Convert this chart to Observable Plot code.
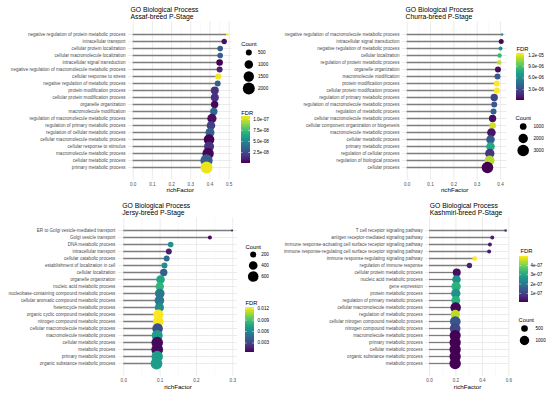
<!DOCTYPE html>
<html><head><meta charset="utf-8">
<script src="https://cdn.jsdelivr.net/npm/d3@7"></script>
<script src="https://cdn.jsdelivr.net/npm/@observablehq/plot@0.6"></script>
<style>
html,body{margin:0;padding:0;background:#fff;}
#chart{position:relative;width:550px;height:393px;overflow:hidden;background:#fff;}
#chart svg{position:absolute;left:0;top:0;}
</style></head><body><div id="chart"></div>
<script>
// ---------------- DATA ----------------
const assafTerms = ["negative regulation of protein metabolic process","intracellular transport","cellular protein localization","cellular macromolecule localization","intracellular signal transduction","negative regulation of macromolecule metabolic process","cellular response to stress","negative regulation of metabolic process","protein modification process","cellular protein modification process","organelle organization","macromolecule modification","regulation of macromolecule metabolic process","regulation of primary metabolic process","regulation of cellular metabolic process","cellular macromolecule metabolic process","cellular response to stimulus","macromolecule metabolic process","cellular metabolic process","primary metabolic process"];
const assafRich = [0.490,0.474,0.453,0.453,0.450,0.450,0.443,0.440,0.425,0.425,0.424,0.420,0.410,0.405,0.400,0.395,0.395,0.390,0.382,0.382];
const assafCount = [95,400,440,440,610,500,500,500,890,890,760,760,1200,1040,1120,1560,1390,1800,2100,2000];
const assafFDR = [1.07e-7,5e-9,3.2e-8,3.3e-8,1e-9,1.1e-8,1.05e-7,3.3e-8,1.6e-8,1.6e-8,3e-9,3.6e-8,5e-9,2.1e-8,3.2e-8,1e-9,1.6e-8,2e-9,3.2e-8,1.04e-7];
const assafXTicks = [0,0.1,0.2,0.3,0.4,0.5];
const assafFdrTicks = [2.5e-8,5e-8,7.5e-8,1e-7];
const assafFdrLabels = ["2.5e-08","5.0e-08","7.5e-08","1.0e-07"];
const assafCountBreaks = [500,1000,1500,2000];

const churraTerms = ["negative regulation of macromolecule metabolic process","intracellular signal transduction","negative regulation of metabolic process","cellular localization","regulation of protein metabolic process","organelle organization","macromolecule modification","protein modification process","cellular protein modification process","regulation of primary metabolic process","regulation of macromolecule metabolic process","regulation of metabolic process","cellular macromolecule metabolic process","cellular component organization or biogenesis","macromolecule metabolic process","cellular metabolic process","primary metabolic process","regulation of cellular process","regulation of biological process","cellular process"];
const churraRich = [0.407,0.403,0.400,0.396,0.394,0.389,0.387,0.384,0.384,0.373,0.373,0.370,0.366,0.366,0.361,0.357,0.357,0.354,0.353,0.344];
const churraCount = [130,560,360,470,470,800,800,800,800,1200,800,800,1200,970,1650,1650,1650,1950,2200,3000];
const churraFDR = [6.2e-6,3e-7,6.5e-6,8.5e-6,1.12e-5,5e-7,3.6e-6,1.24e-5,1.24e-5,2.6e-6,3.6e-6,3.8e-6,5e-7,1.15e-5,8e-7,3.6e-6,7.5e-6,2e-6,1.1e-5,1e-7];
const churraXTicks = [0,0.1,0.2,0.3,0.4];
const churraFdrTicks = [3e-6,6e-6,9e-6,1.2e-5];
const churraFdrLabels = ["3.0e-06","6.0e-06","9.0e-06","1.2e-05"];
const churraCountBreaks = [1000,2000,3000];

const jersyTerms = ["ER to Golgi vesicle-mediated transport","Golgi vesicle transport","DNA metabolic process","intracellular transport","cellular catabolic process","establishment of localization in cell","cellular localization","organelle organization","nucleic acid metabolic process","nucleobase-containing compound metabolic process","cellular aromatic compound metabolic process","heterocycle metabolic process","organic cyclic compound metabolic process","nitrogen compound metabolic process","cellular macromolecule metabolic process","macromolecule metabolic process","cellular metabolic process","metabolic process","primary metabolic process","organic substance metabolic process"];
const jersyRich = [0.298,0.237,0.129,0.124,0.118,0.112,0.110,0.101,0.099,0.099,0.098,0.098,0.095,0.095,0.093,0.092,0.092,0.092,0.092,0.090];
const jersyCount = [21,86,170,190,190,190,290,400,380,500,500,450,535,600,600,650,720,740,700,740];
const jersyFDR = [5e-4,8e-4,6.5e-3,1.5e-3,4.5e-3,6.3e-3,4.0e-3,7.5e-3,8.2e-3,5.2e-3,5.3e-3,6.3e-3,1.23e-2,1.22e-2,3.3e-3,7.0e-3,8e-4,8e-4,7.0e-3,7.0e-3];
const jersyXTicks = [0,0.1,0.2,0.3];
const jersyFdrTicks = [0.003,0.006,0.009,0.012];
const jersyFdrLabels = ["0.003","0.006","0.009","0.012"];
const jersyCountBreaks = [200,400,600];

const kashmiriTerms = ["T cell receptor signaling pathway","antigen receptor-mediated signaling pathway","immune response-activating cell surface receptor signaling pathway","immune response-regulating cell surface receptor signaling pathway","immune response-regulating signaling pathway","regulation of immune response","cellular protein metabolic process","nucleic acid metabolic process","gene expression","protein metabolic process","regulation of primary metabolic process","cellular macromolecule metabolic process","regulation of metabolic process","cellular nitrogen compound metabolic process","nitrogen compound metabolic process","macromolecule metabolic process","primary metabolic process","cellular metabolic process","organic substance metabolic process","metabolic process"];
const kashmiriRich = [0.576,0.475,0.457,0.451,0.342,0.302,0.206,0.204,0.201,0.199,0.199,0.198,0.195,0.195,0.194,0.194,0.194,0.194,0.194,0.194];
const kashmiriCount = [77,180,180,180,240,330,725,840,1000,1000,900,1250,1000,1300,1300,1400,1450,1450,1450,1480];
const kashmiriFDR = [7e-8,5e-8,4e-8,4e-8,4.95e-7,5e-8,2e-8,2.5e-7,3.2e-7,2.5e-7,3.2e-7,1e-8,4.45e-7,1.3e-7,1.05e-7,5e-9,4e-9,4e-9,3e-9,3e-9];
const kashmiriXTicks = [0,0.2,0.4,0.6];
const kashmiriFdrTicks = [1e-7,2e-7,3e-7,4e-7];
const kashmiriFdrLabels = ["1e-07","2e-07","3e-07","4e-07"];
const kashmiriCountBreaks = [500,1000];

// ---------------- LAYOUT ----------------
const W = 550, H = 393;
const FONT = '"Liberation Sans", Arial, Helvetica, sans-serif';
const chart = document.getElementById("chart");

function panel(c) {
  const data = c.terms.map((t, i) => ({term: t, rich: c.rich[i], count: c.count[i], fdr: c.fdr[i]}));
  const maxR = d3.max(c.rich);
  const dom = [-0.05 * maxR, 1.05 * maxR];
  const left = c.x0 + dom[0] * c.k, right = c.x0 + dom[1] * c.k;
  const n = c.terms.length;
  const step = (c.yLast - c.yFirst) / (n - 1);
  const top = c.yFirst - 0.6 * step, bottom = c.yLast + 0.6 * step;
  const minor = c.xTicks.slice(0, -1).map((t, i) => (t + c.xTicks[i + 1]) / 2);
  const p = Plot.plot({
    width: W, height: H,
    marginLeft: left, marginRight: W - right, marginTop: top, marginBottom: H - bottom,
    style: {background: "transparent", fontFamily: FONT, fontSize: "4.6px", color: "#4d4d4d"},
    x: {domain: dom, ticks: c.xTicks, tickFormat: d3.format(".1f"), tickSize: 0, tickPadding: 2.5, label: null},
    y: {type: "point", domain: c.terms, padding: 0.6, tickSize: 0, tickPadding: 3, label: null},
    r: c.size,
    color: {type: "linear", scheme: "viridis", domain: d3.extent(c.fdr)},
    marks: [
      Plot.ruleX(minor, {stroke: "#f1f1f1", strokeWidth: 0.45}),
      Plot.ruleX(c.xTicks, {stroke: "#e6e6e6", strokeWidth: 0.8}),
      Plot.ruleY(c.terms, {stroke: "#e6e6e6", strokeWidth: 0.8}),
      Plot.ruleY(data, {y: "term", x1: 0, x2: "rich", stroke: "#7d7d7d", strokeWidth: 1.3}),
      Plot.dot(data, {x: "rich", y: "term", r: "count", fill: "fdr", sort: null}),
      Plot.text([c.title[0]], {frameAnchor: "top-left", dx: c.titleX - left, dy: c.titleY1 - top, textAnchor: "start", fontSize: 6.8, fill: "black"}),
      Plot.text([c.title[1]], {frameAnchor: "top-left", dx: c.titleX - left, dy: c.titleY2 - top, textAnchor: "start", fontSize: 6.8, fill: "black"}),
      Plot.text(["richFactor"], {frameAnchor: "bottom", dy: c.labelY - bottom, fontSize: 6.2, fill: "black"})
    ]
  });
  chart.appendChild(p);
}

function colorbar(c) {
  const dom = d3.extent(c.fdr);
  const N = 60;
  const slices = d3.range(N).map(i => ({a: dom[0] + (dom[1] - dom[0]) * i / N, b: dom[0] + (dom[1] - dom[0]) * (i + 1) / N}));
  const p = Plot.plot({
    width: W, height: H,
    marginLeft: c.bx, marginRight: W - c.bx - c.bw, marginTop: c.by, marginBottom: H - c.by - c.bh,
    style: {background: "transparent", fontFamily: FONT, fontSize: "4.6px", color: "black"},
    x: {domain: [0, 1], axis: null},
    y: {domain: dom, axis: null},
    color: {type: "linear", scheme: "viridis", domain: dom},
    marks: [
      Plot.rect(slices, {x1: 0, x2: 1, y1: "a", y2: "b", fill: d => (d.a + d.b) / 2, shapeRendering: "crispEdges"}),
      Plot.ruleY(c.ticks, {x1: 0, x2: 0.2, stroke: "white", strokeWidth: 0.5}),
      Plot.ruleY(c.ticks, {x1: 0.8, x2: 1, stroke: "white", strokeWidth: 0.5}),
      Plot.text(c.ticks, {y: d => d, text: (d, i) => c.labels[i], frameAnchor: "right", dx: c.labelX - (c.bx + c.bw), textAnchor: "start", fontSize: 4.6, fill: "black"}),
      Plot.text(["FDR"], {frameAnchor: "top-left", dx: c.titleX - c.bx, dy: c.titleY - c.by, textAnchor: "start", fontSize: 5.8, fill: "black"})
    ]
  });
  chart.appendChild(p);
}

function sizeLegend(c) {
  const p = Plot.plot({
    width: W, height: H,
    marginLeft: c.cx - 5, marginRight: W - c.cx - 5, marginTop: c.yFirst, marginBottom: H - c.yLast,
    style: {background: "transparent", fontFamily: FONT, fontSize: "4.6px", color: "black"},
    y: {type: "point", domain: c.breaks, padding: 0, axis: null},
    r: c.size,
    marks: [
      Plot.dot(c.breaks, {y: d => d, r: d => d, fill: "black", sort: null}),
      Plot.text(c.breaks, {y: d => d, text: d => String(d), frameAnchor: "right", dx: c.labelX - (c.cx + 5), textAnchor: "start", fontSize: 4.6, fill: "black"}),
      Plot.text(["Count"], {frameAnchor: "top-left", dx: c.titleX - (c.cx - 5), dy: c.titleY - c.yFirst, textAnchor: "start", fontSize: 5.8, fill: "black"})
    ]
  });
  chart.appendChild(p);
}

const assafSize = {type: "sqrt", domain: [0, 2000], range: [0, 6]};
const churraSize = {type: "sqrt", domain: [0, 3000], range: [0, 5.8]};
const jersySize = {type: "sqrt", domain: [0, 600], range: [0, 5.3]};
const kashmiriSize = {type: "sqrt", domain: [0, 1000], range: [0, 4.7]};

// Assaf
panel({terms: assafTerms, rich: assafRich, count: assafCount, fdr: assafFDR, xTicks: assafXTicks,
  x0: 132.7, k: 192, yFirst: 26, yLast: 175, size: assafSize,
  title: ["GO Biological Process", "Assaf-breed P-Stage"], titleX: 130, titleY1: 6.6, titleY2: 14.1, labelY: 191.7});
sizeLegend({breaks: assafCountBreaks, size: assafSize, cx: 248.3, yFirst: 52.3, yLast: 88.7, labelX: 257.5, titleX: 240.7, titleY: 41.7});
colorbar({fdr: assafFDR, ticks: assafFdrTicks, labels: assafFdrLabels, bx: 240.7, by: 115.7, bw: 9.3, bh: 47, labelX: 252.7, titleX: 240.7, titleY: 110});

// Churra
panel({terms: churraTerms, rich: churraRich, count: churraCount, fdr: churraFDR, xTicks: churraXTicks,
  x0: 406.7, k: 233.3, yFirst: 26, yLast: 175, size: churraSize,
  title: ["GO Biological Process", "Churra-breed P-Stage"], titleX: 405, titleY1: 6.6, titleY2: 14.1, labelY: 191.7});
colorbar({fdr: churraFDR, ticks: churraFdrTicks, labels: churraFdrLabels, bx: 515.7, by: 53, bw: 8.6, bh: 47, labelX: 527.7, titleX: 516, titleY: 46});
sizeLegend({breaks: churraCountBreaks, size: churraSize, cx: 522.7, yFirst: 125, yLast: 150, labelX: 533, titleX: 515, titleY: 115});

// Jersy
panel({terms: jersyTerms, rich: jersyRich, count: jersyCount, fdr: jersyFDR, xTicks: jersyXTicks,
  x0: 123.3, k: 363.3, yFirst: 222.3, yLast: 371, size: jersySize,
  title: ["GO Biological Process", "Jersy-breed P-Stage"], titleX: 121.7, titleY1: 202.4, titleY2: 209.9, labelY: 388.5});
sizeLegend({breaks: jersyCountBreaks, size: jersySize, cx: 252.7, yFirst: 254, yLast: 276.7, labelX: 260.7, titleX: 245, titleY: 244});
colorbar({fdr: jersyFDR, ticks: jersyFdrTicks, labels: jersyFdrLabels, bx: 245, by: 307, bw: 9, bh: 45, labelX: 257, titleX: 245, titleY: 300});

// Kashmiri
panel({terms: kashmiriTerms, rich: kashmiriRich, count: kashmiriCount, fdr: kashmiriFDR, xTicks: kashmiriXTicks,
  x0: 429, k: 132.2, yFirst: 221.7, yLast: 371, size: kashmiriSize,
  title: ["GO Biological Process", "Kashmiri-breed P-Stage"], titleX: 429.3, titleY1: 202.4, titleY2: 209.9, labelY: 388});
colorbar({fdr: kashmiriFDR, ticks: kashmiriFdrTicks, labels: kashmiriFdrLabels, bx: 519.3, by: 256, bw: 9, bh: 46, labelX: 530, titleX: 520, titleY: 248});
sizeLegend({breaks: kashmiriCountBreaks, size: kashmiriSize, cx: 524, yFirst: 328, yLast: 340, labelX: 535, titleX: 518, titleY: 317});
</script></body></html>
